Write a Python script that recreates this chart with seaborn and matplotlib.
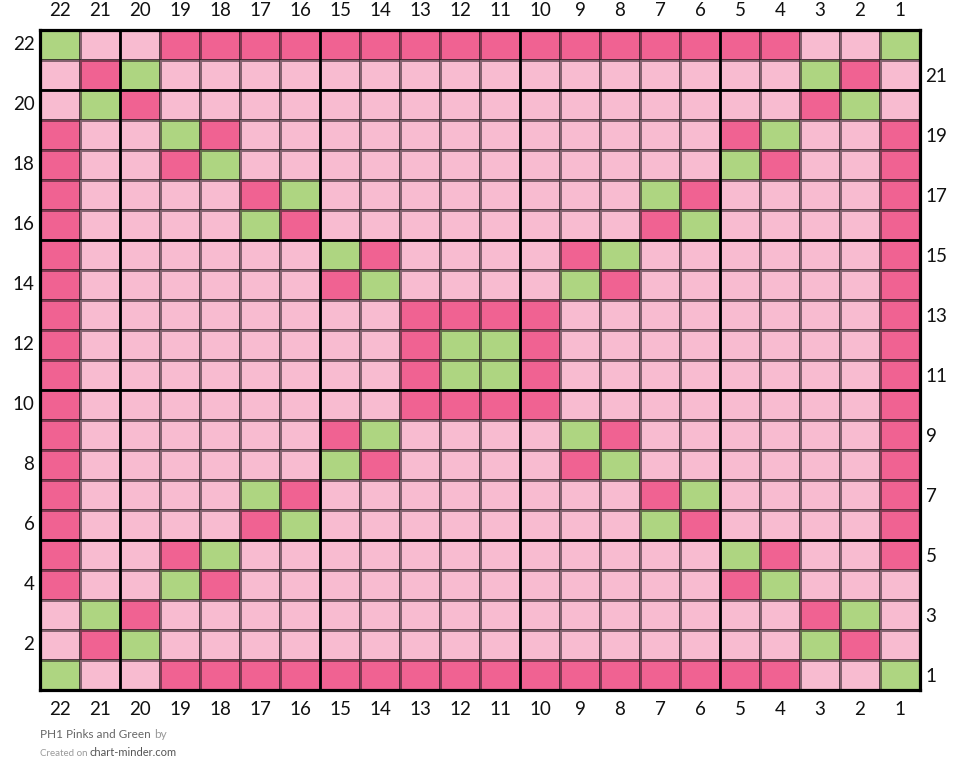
import numpy as np
import pandas as pd
import matplotlib
matplotlib.use("Agg")
import matplotlib.pyplot as plt
from matplotlib.colors import ListedColormap
import seaborn as sns

# ---------------- data ----------------
col_labels = [22, 21, 20, 19, 18, 17, 16, 15, 14, 13, 12, 11, 10, 9, 8, 7, 6, 5, 4, 3, 2, 1]
row_labels = [22, 21, 20, 19, 18, 17, 16, 15, 14, 13, 12, 11, 10, 9, 8, 7, 6, 5, 4, 3, 2, 1]

# L = light pink, D = dark pink, G = green ; each string is a row (top row 22 first),
# characters run from column 22 (left) to column 1 (right)
chart_rows = [
    "GLL" "DDDDDDDDDDDDDDDD" "LLG",          # 22
    "LDG" "LLLLLLLLLLLLLLLL" "GDL",          # 21
    "LGD" "LLLLLLLLLLLLLLLL" "DGL",          # 20
    "DLLGD" "LLLLLLLLLLLL" "DGLLD",          # 19
    "DLLDG" "LLLLLLLLLLLL" "GDLLD",          # 18
    "DLLLLDG" "LLLLLLLL" "GDLLLLD",          # 17
    "DLLLLGD" "LLLLLLLL" "DGLLLLD",          # 16
    "D" "LLLLLL" "GD" "LLLL" "DG" "LLLLLL" "D",  # 15
    "D" "LLLLLL" "DG" "LLLL" "GD" "LLLLLL" "D",  # 14
    "D" "LLLLLLLL" "DDDD" "LLLLLLLL" "D",    # 13
    "D" "LLLLLLLL" "DGGD" "LLLLLLLL" "D",    # 12
    "D" "LLLLLLLL" "DGGD" "LLLLLLLL" "D",    # 11
    "D" "LLLLLLLL" "DDDD" "LLLLLLLL" "D",    # 10
    "D" "LLLLLL" "DG" "LLLL" "GD" "LLLLLL" "D",  # 9
    "D" "LLLLLL" "GD" "LLLL" "DG" "LLLLLL" "D",  # 8
    "DLLLLGD" "LLLLLLLL" "DGLLLLD",          # 7
    "DLLLLDG" "LLLLLLLL" "GDLLLLD",          # 6
    "DLLDG" "LLLLLLLLLLLL" "GDLLD",          # 5
    "DLLGD" "LLLLLLLLLLLL" "DGLLL",          # 4
    "LGD" "LLLLLLLLLLLLLLLL" "DGL",          # 3
    "LDG" "LLLLLLLLLLLLLLLL" "GDL",          # 2
    "GLL" "DDDDDDDDDDDDDDDD" "LLG",          # 1
]
stitch_codes = {"L": 0, "D": 1, "G": 2}
stitch_colors = ["#F8BBD0", "#F06292", "#AED581"]

title_text = "PH1 Pinks and Green"
credit_site = "chart-minder.com"

for r in chart_rows:
    assert len(r) == 22

grid = pd.DataFrame([[stitch_codes[c] for c in r] for r in chart_rows],
                    index=row_labels, columns=col_labels)

# ---------------- plot ----------------
sns.set_style("white")
plt.rcParams["font.family"] = ["Lato", "DejaVu Sans"]

W, H = 960, 783
fig = plt.figure(figsize=(W / 100, H / 100), dpi=100)
ax = fig.add_axes([40 / W, 93 / H, 880 / W, 660 / H])

sns.heatmap(grid, ax=ax, cmap=ListedColormap(stitch_colors), vmin=-0.5, vmax=2.5,
            cbar=False, linewidths=0.8, linecolor=(0.15, 0.1, 0.12, 0.55),
            square=False)

# thick divider lines every 5 stitches / rows (between 5|6, 10|11, ...)
for i in range(1, len(col_labels)):
    if col_labels[i] % 5 == 0:
        ax.axvline(i, color="black", lw=1.9, zorder=5)
for j in range(1, len(row_labels)):
    if row_labels[j] % 5 == 0:
        ax.axhline(j, color="black", lw=1.9, zorder=5)

for s in ax.spines.values():
    s.set_visible(True)
    s.set_linewidth(2.3)
    s.set_color("black")
    s.set_zorder(6)

fs = 13.5
ax.set_xticks(np.arange(len(col_labels)) + 0.5)
ax.set_xticklabels([str(c) for c in col_labels], rotation=0)
ax.tick_params(axis="x", length=0, pad=8, labelsize=fs, labeltop=True, labelbottom=True,
               colors="#111111")
ax.set_xlabel("")
ax.set_ylabel("")

even_idx = [k for k, r in enumerate(row_labels) if r % 2 == 0]
odd_idx = [k for k, r in enumerate(row_labels) if r % 2 == 1]
ax.set_yticks(np.array(even_idx) + 0.5)
ax.set_yticklabels([str(row_labels[k]) for k in even_idx], rotation=0)
ax.tick_params(axis="y", length=0, pad=4, labelsize=fs, colors="#111111")

ax2 = ax.twinx()
ax2.set_ylim(ax.get_ylim())
ax2.set_yticks(np.array(odd_idx) + 0.5)
ax2.set_yticklabels([str(row_labels[k]) for k in odd_idx])
ax2.tick_params(axis="y", length=0, pad=4, labelsize=fs, colors="#111111")
for s in ax2.spines.values():
    s.set_visible(False)

# caption
fig.canvas.draw()
renderer = fig.canvas.get_renderer()
t1 = fig.text(40 / W, 1 - 735 / H, title_text, fontsize=8.5, color="#666666", va="center", ha="left")
bb = t1.get_window_extent(renderer)
fig.text((bb.x1 + 3) / W, 1 - 735 / H, "by", fontsize=8.5, color="#9a9a9a", va="center", ha="left")
t3 = fig.text(40 / W, 1 - 753 / H, "Created on", fontsize=7, color="#9a9a9a", va="center", ha="left")
bb3 = t3.get_window_extent(renderer)
fig.text((bb3.x1 + 2) / W, 1 - 753 / H, credit_site, fontsize=8, color="#555555", va="center", ha="left")

fig.savefig("out.png", dpi=100)
